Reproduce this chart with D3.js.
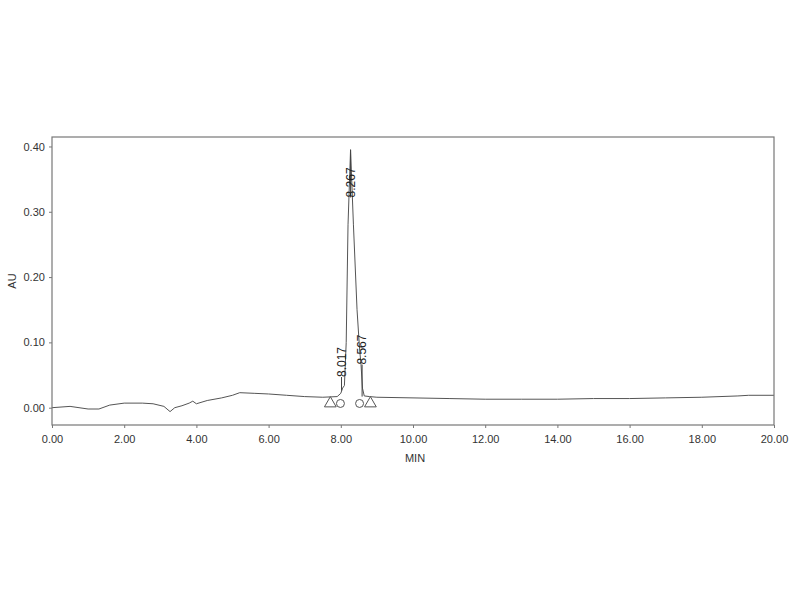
<!DOCTYPE html>
<html>
<head>
<meta charset="utf-8">
<script src="https://cdn.jsdelivr.net/npm/d3@7"></script>
<style>
  body { margin: 0; background: #fff; }
  text { font-family: "Liberation Sans", Arial, sans-serif; fill: #333; }
</style>
</head>
<body>
<div id="chart"></div>
<script>
// chromatogram trace (minutes, AU)
var times = [0, 0.5, 1.0, 1.3, 1.6, 2.0, 2.5, 2.8, 3.1, 3.27, 3.4, 3.6, 3.8, 3.9, 4.0, 4.3, 4.7, 5.0, 5.2, 5.6, 6.0, 6.5, 7.0, 7.5, 7.9,
  8.0, 8.05, 8.1, 8.15, 8.2, 8.27, 8.35, 8.45, 8.52, 8.56, 8.6, 8.65, 8.8, 9.0,
  10, 11, 12, 13, 14, 15, 16, 17, 18, 19, 19.3, 20];
var absorb = [0, 0.002, -0.002, -0.002, 0.004, 0.007, 0.007, 0.006, 0.002, -0.006, 0.0, 0.003, 0.007, 0.010, 0.006, 0.011, 0.015, 0.019, 0.023, 0.022, 0.021, 0.019, 0.017, 0.016, 0.017,
  0.022, 0.030, 0.034, 0.10, 0.28, 0.395, 0.28, 0.15, 0.09, 0.066, 0.03, 0.018, 0.017, 0.016,
  0.015, 0.014, 0.013, 0.013, 0.013, 0.014, 0.014, 0.015, 0.016, 0.018, 0.019, 0.019];

// peak labels
var peakNames = ["8.017", "8.267", "8.567"];
var peakTimes = [8.02, 8.27, 8.59];
var peakApex = [0.026, 0.395, 0.017];
var peakLabelBase = [0.047, 0.322, 0.066];

// integration marks
var markTimes = [7.71, 7.99, 8.52, 8.82];
var markTypes = ["tri", "circ", "circ", "tri"];
var markLevel = 0.008;

var xTicks = [0, 2, 4, 6, 8, 10, 12, 14, 16, 18, 20];
var yTicks = [0, 0.1, 0.2, 0.3, 0.4];

var width = 800, height = 600;
var plotLeft = 52, plotRight = 774, plotTop = 137, plotBottom = 425;

var svg = d3.select("#chart").append("svg")
  .attr("width", width)
  .attr("height", height);

var x = d3.scaleLinear().domain([0, 20]).range([plotLeft, plotRight]);
var y = d3.scaleLinear().domain([-0.0265, 0.4145]).range([plotBottom, plotTop]);

var line = d3.line()
  .x(function(d) { return x(d[0]); })
  .y(function(d) { return y(d[1]); });

var trace = times.map(function(t, i) { return [t, absorb[i]]; });

svg.append("path")
  .datum(trace)
  .attr("fill", "none")
  .attr("stroke", "#555")
  .attr("stroke-width", 1)
  .attr("d", line);

// frame
svg.append("rect")
  .attr("x", plotLeft).attr("y", plotTop)
  .attr("width", plotRight - plotLeft).attr("height", plotBottom - plotTop)
  .attr("fill", "none")
  .attr("stroke", "#777")
  .attr("stroke-width", 1.2);

var xAxis = svg.append("g")
  .attr("transform", "translate(0," + plotBottom + ")")
  .call(d3.axisBottom(x).tickValues(xTicks).tickSize(3).tickFormat(d3.format(".2f")));
xAxis.select(".domain").remove();
xAxis.selectAll("line").attr("stroke", "#777");
xAxis.selectAll("text").attr("font-size", 11).attr("dy", "1.1em");

var yAxis = svg.append("g")
  .attr("transform", "translate(" + plotLeft + ",0)")
  .call(d3.axisLeft(y).tickValues(yTicks).tickSize(3).tickFormat(d3.format(".2f")));
yAxis.select(".domain").remove();
yAxis.selectAll("line").attr("stroke", "#777");
yAxis.selectAll("text").attr("font-size", 11).attr("dx", "-0.1em");

svg.append("text")
  .attr("x", (plotLeft + plotRight) / 2 + 2)
  .attr("y", 462)
  .attr("text-anchor", "middle")
  .attr("font-size", 11)
  .text("MIN");

svg.append("text")
  .attr("transform", "translate(16," + ((plotTop + plotBottom) / 2) + ") rotate(-90)")
  .attr("text-anchor", "middle")
  .attr("font-size", 11)
  .text("AU");

// peak leader lines and labels
peakNames.forEach(function(name, i) {
  svg.append("line")
    .attr("x1", x(peakTimes[i])).attr("x2", x(peakTimes[i]))
    .attr("y1", y(peakApex[i])).attr("y2", y(peakLabelBase[i]))
    .attr("stroke", "#444").attr("stroke-width", 1);
  svg.append("text")
    .attr("transform", "translate(" + (x(peakTimes[i]) + 4) + "," + y(peakLabelBase[i]) + ") rotate(-90)")
    .attr("text-anchor", "start")
    .attr("font-size", 12)
    .style("fill", "#222")
    .text(name);
});

// integration markers
markTimes.forEach(function(t, i) {
  var sym = markTypes[i] === "tri" ? d3.symbolTriangle : d3.symbolCircle;
  var size = markTypes[i] === "tri" ? 60 : 50;
  svg.append("path")
    .attr("d", d3.symbol().type(sym).size(size))
    .attr("transform", "translate(" + x(t) + "," + (y(markLevel) + 1) + ")")
    .attr("fill", "#fff")
    .attr("stroke", "#555")
    .attr("stroke-width", 1);
});
</script>
</body>
</html>
